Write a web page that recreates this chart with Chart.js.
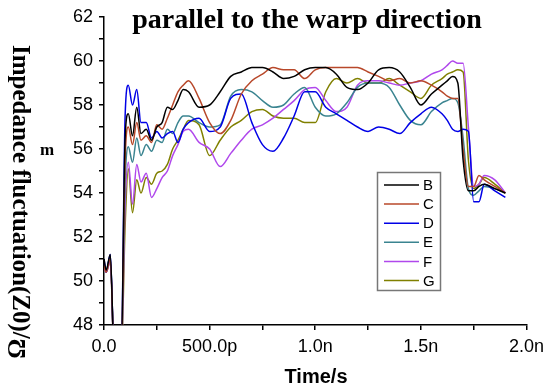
<!DOCTYPE html>
<html>
<head>
<meta charset="utf-8">
<script src="https://cdn.jsdelivr.net/npm/chart.js@4.4.0/dist/chart.umd.min.js"></script>
<style>
  body { margin: 0; background: #fff; }
  #wrap { width: 550px; height: 391px; }
</style>
</head>
<body>
<div id="wrap"><canvas id="tdrChart" width="550" height="391"></canvas></div>
<script>
// time axis in ns
const times = [0, 0.01, 0.03, 0.05, 0.08, 0.1, 0.115, 0.135, 0.155, 0.175, 0.2, 0.225, 0.25, 0.275, 0.3, 0.325, 0.35, 0.375, 0.4,
  0.45, 0.5, 0.55, 0.6, 0.65, 0.7, 0.75, 0.8, 0.85, 0.9, 0.95, 1.0, 1.05, 1.1, 1.15, 1.2, 1.25, 1.3, 1.35, 1.4, 1.45, 1.5, 1.55, 1.6,
  1.625, 1.65, 1.675, 1.7, 1.725, 1.75, 1.775, 1.8, 1.85, 1.9];

const seriesB = [51.0, 50.5, 51.2, 46, 46, 56.5, 57.6, 56.6, 57.9, 56.7, 56.9, 56.4, 57.0, 57.2, 57.9, 57.8, 58.2, 58.7, 58.6,
  57.9, 58.0, 58.6, 59.3, 59.5, 59.7, 59.7, 59.5, 59.2, 59.3, 59.6, 59.7, 59.7, 59.4, 58.8, 58.7, 59.0, 59.6, 59.7, 59.5, 58.8, 58.0, 58.5, 58.9,
  59.1, 59.3, 59.0, 55.5, 54.1, 54.1, 54.3, 54.4, 54.2, 54.0];
const seriesC = [50.7, 50.4, 51.0, 46, 46, 55.5, 57.0, 56.2, 57.2, 56.4, 56.6, 56.3, 57.1, 56.9, 57.4, 58.0, 58.6, 58.9, 59.1,
  58.3, 57.2, 56.7, 57.3, 58.5, 59.1, 59.4, 59.7, 59.6, 59.6, 59.2, 59.6, 59.7, 59.7, 59.7, 59.7, 59.5, 59.3, 59.1, 59.2, 59.0, 59.1, 58.9, 58.6,
  58.4, 58.3, 58.3, 56.0, 54.3, 54.3, 54.8, 54.6, 54.3, 54.0];
const seriesD = [51.0, 50.4, 51.2, 46, 46, 57.5, 58.9, 58.0, 58.7, 57.2, 57.2, 56.5, 56.8, 56.5, 56.7, 56.8, 56.3, 56.9, 57.2,
  57.4, 56.8, 57.0, 58.3, 58.5, 57.2, 56.2, 55.9, 56.5, 57.5, 58.6, 58.6, 57.9, 57.6, 57.3, 57.0, 56.8, 57.0, 56.9, 56.7, 57.2, 57.6, 57.9, 57.6,
  57.3, 56.9, 56.8, 56.9, 56.8, 53.6, 53.6, 54.4, 54.1, 53.8];
const seriesE = [50.8, 50.5, 51.1, 46, 46, 54.5, 56.1, 55.4, 56.5, 55.7, 56.2, 55.9, 56.4, 56.3, 56.9, 56.7, 57.2, 57.5, 57.5,
  57.2, 57.0, 57.1, 58.4, 58.7, 58.6, 58.2, 57.9, 58.0, 58.5, 58.8, 57.9, 57.5, 57.6, 58.1, 58.8, 59.0, 59.0, 58.8, 58.0, 57.3, 57.1, 57.7, 58.1,
  58.2, 58.3, 58.1, 56.5, 54.2, 53.9, 54.1, 54.3, 54.2, 54.0];
const seriesF = [50.6, 50.4, 50.9, 46, 46, 53.5, 55.4, 53.5, 55.3, 54.5, 54.9, 53.8, 54.2, 54.7, 55.0, 55.7, 56.2, 56.8, 56.9,
  56.3, 56.0, 55.2, 55.8, 56.4, 56.9, 57.1, 57.4, 57.8, 58.2, 58.7, 58.8, 58.2, 57.7, 57.9, 58.9, 59.1, 59.1, 59.0, 58.9, 59.0, 59.1, 59.4, 59.6,
  59.8, 60.0, 59.9, 59.9, 57.0, 54.3, 54.4, 54.8, 54.6, 54.0];
const seriesG = [50.6, 50.4, 50.9, 46, 46, 52.5, 55.1, 53.1, 54.6, 54.0, 54.7, 54.4, 54.9, 55.0, 55.3, 56.0, 56.4, 56.9, 57.3,
  57.1, 55.7, 56.4, 57.0, 57.3, 57.7, 57.8, 57.5, 57.4, 57.4, 57.2, 57.2, 58.6, 59.2, 59.0, 59.2, 59.0, 59.0, 59.2, 58.9, 58.6, 58.3, 58.9, 59.2,
  59.4, 59.5, 59.6, 59.5, 55.5, 54.2, 54.4, 54.7, 54.4, 54.0];

const seriesNames = ['B', 'C', 'D', 'E', 'F', 'G'];
const seriesColors = ['#000000', '#b8482a', '#0000e6', '#3a8490', '#b048ec', '#808000'];
const allSeries = [seriesB, seriesC, seriesD, seriesE, seriesF, seriesG];

const xTickValues = [0, 0.5, 1.0, 1.5, 2.0];
const xTickLabels = ['0.0', '500.0p', '1.0n', '1.5n', '2.0n'];

// titles, stray glyphs and the boxed legend are drawn by hand
const extrasPlugin = {
  id: 'extras',
  afterDraw(chart) {
    const ctx = chart.ctx;
    ctx.save();
    ctx.fillStyle = '#000';

    // title
    ctx.font = 'bold 28px "Liberation Serif"';
    ctx.textAlign = 'center';
    ctx.textBaseline = 'alphabetic';
    ctx.fillText('parallel to the warp direction', 307, 28);

    // x title
    ctx.font = 'bold 20px "Liberation Sans"';
    ctx.textBaseline = 'middle';
    ctx.fillText('Time/s', 316, 377);

    // y title, rotated clockwise
    ctx.font = 'bold 25px "Liberation Serif"';
    const main = 'Impedance fluctuation(Z0)/';
    const w = ctx.measureText(main).width;
    ctx.save();
    ctx.translate(19, 45);
    ctx.rotate(Math.PI / 2);
    ctx.textAlign = 'left';
    ctx.fillText(main, 0, 0);
    ctx.restore();
    ctx.save();
    ctx.translate(19, 45 + w + 10);
    ctx.rotate(-Math.PI / 2);
    ctx.textAlign = 'center';
    ctx.fillText('\u03A9', 0, 0);
    ctx.restore();

    ctx.font = 'bold 17px "Liberation Serif"';
    ctx.textAlign = 'center';
    ctx.fillText('m', 47, 151);

    // legend
    ctx.strokeStyle = '#777';
    ctx.lineWidth = 1.5;
    ctx.strokeRect(377.5, 172.5, 63, 118);
    ctx.font = '15px "Liberation Sans"';
    ctx.textAlign = 'left';
    seriesNames.forEach((name, i) => {
      const y = 185 + i * 19.1;
      ctx.strokeStyle = seriesColors[i];
      ctx.beginPath();
      ctx.moveTo(384, y);
      ctx.lineTo(419, y);
      ctx.stroke();
      ctx.fillStyle = '#000';
      ctx.fillText(name, 423, y + 1);
    });
    ctx.restore();
  }
};

const ctx = document.getElementById('tdrChart').getContext('2d');
new Chart(ctx, {
  type: 'line',
  data: {
    datasets: allSeries.map((vals, i) => ({
      label: seriesNames[i],
      data: times.map((t, k) => ({ x: t, y: vals[k] })),
      borderColor: seriesColors[i],
      borderWidth: 1.5,
      pointRadius: 0,
      fill: false,
      cubicInterpolationMode: 'monotone'
    }))
  },
  options: {
    responsive: false,
    animation: false,
    layout: { padding: { left: 0, right: 22, top: 17, bottom: 0 } },
    plugins: {
      legend: { display: false },
      tooltip: { enabled: false }
    },
    scales: {
      x: {
        type: 'linear',
        min: 0,
        max: 2,
        afterFit: (s) => { s.height = 66; },
        border: { display: true, color: '#000', width: 1.5 },
        grid: { drawOnChartArea: false, drawTicks: true, tickLength: 5, color: '#000', lineWidth: 1.5 },
        ticks: {
          stepSize: 0.25,
          autoSkip: false,
          maxRotation: 0,
          padding: 6,
          color: '#000',
          font: { family: '"Liberation Sans"', size: 18 },
          callback: (v) => {
            const k = xTickValues.findIndex(t => Math.abs(t - v) < 1e-6);
            return k >= 0 ? xTickLabels[k] : '';
          }
        }
      },
      y: {
        min: 48,
        max: 62,
        afterFit: (s) => { s.width = 104; },
        border: { display: true, color: '#000', width: 1.5 },
        grid: { drawOnChartArea: false, drawTicks: true, tickLength: 5, color: '#000', lineWidth: 1.5 },
        ticks: {
          stepSize: 1,
          autoSkip: false,
          padding: 6,
          color: '#000',
          font: { family: '"Liberation Sans"', size: 18 },
          callback: (v) => (v % 2 === 0 ? v : '')
        }
      }
    }
  },
  plugins: [extrasPlugin]
});
</script>
</body>
</html>
